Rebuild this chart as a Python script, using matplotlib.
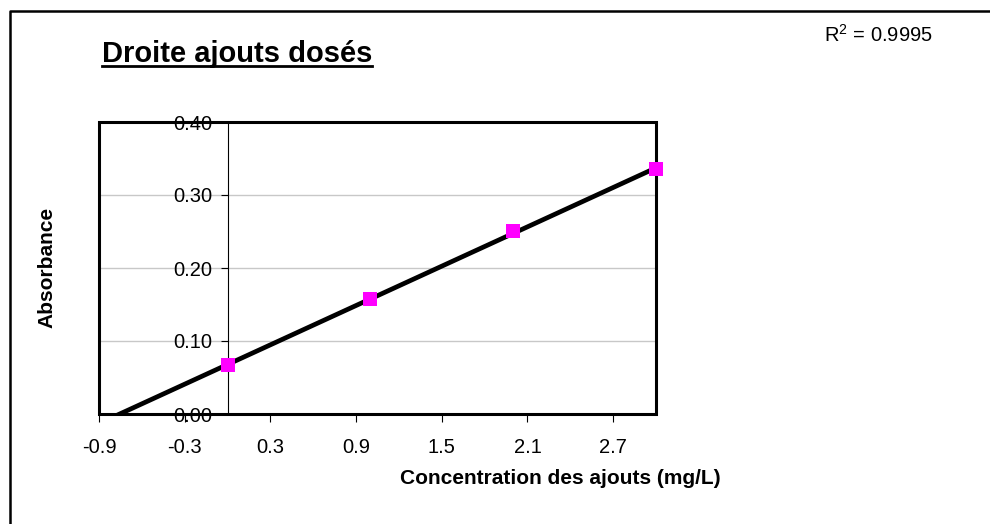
import matplotlib
matplotlib.use("Agg")
import matplotlib.pyplot as plt
from matplotlib.lines import Line2D
from matplotlib.patches import Rectangle
import numpy as np

plt.rcParams['font.family'] = ['Liberation Sans', 'DejaVu Sans']
plt.rcParams['mathtext.fontset'] = 'custom'
plt.rcParams['mathtext.rm'] = 'Liberation Sans'
plt.rcParams['mathtext.it'] = 'Liberation Sans'

# Standard additions: added concentration vs measured absorbance
concentration = [0.0, 1.0, 2.0, 3.0]
absorbance = [0.067, 0.157, 0.251, 0.335]
r2_label = r"R$^{\mathrm{2}}$ = 0.9995"
x_ticks = [-0.9, -0.3, 0.3, 0.9, 1.5, 2.1, 2.7]
y_ticks = [0.0, 0.1, 0.2, 0.3, 0.4]

fig = plt.figure(figsize=(9.9, 5.24), dpi=100)
ax = fig.add_axes([99/990, 1 - 414/524, (656 - 99)/990, (414 - 122)/524])

# Least-squares trendline
slope, intercept = np.polyfit(concentration, absorbance, 1)
xs = np.array([-0.9, 3.0])
ax.plot(xs, slope * xs + intercept, color='black', lw=3.4, zorder=4,
        solid_capstyle='butt')
ax.plot(concentration, absorbance, linestyle='none', marker='s',
        markersize=10.5, color='#FF00FF', markeredgewidth=0, zorder=5,
        clip_on=False)

ax.set_xlim(-0.9, 3.0)
ax.set_ylim(0.0, 0.4)

# Horizontal gridlines
for y in y_ticks[1:-1]:
    ax.axhline(y, color='#c8c8c8', lw=1.0, zorder=1)

# Value axis crossing at x = 0
ax.spines['left'].set_position(('data', 0))
ax.spines['left'].set_linewidth(0.8)
ax.spines['left'].set_zorder(2)
for s in ['top', 'right', 'bottom']:
    ax.spines[s].set_visible(False)

# Plot-area frame
ax.add_patch(Rectangle((0, 0), 1, 1, transform=ax.transAxes, fill=False,
                       edgecolor='black', lw=2.2, zorder=3, clip_on=False))

ax.set_xticks(x_ticks)
ax.set_xticklabels([f"{v:.1f}" for v in x_ticks])
ax.set_yticks(y_ticks)
ax.set_yticklabels([f"{v:.2f}" for v in y_ticks])
ax.tick_params(axis='x', direction='out', length=6, width=0.8, pad=11,
               labelsize=14.5)
ax.tick_params(axis='y', direction='out', length=5, width=0.8, pad=6,
               labelsize=14.5)
for lab in ax.get_yticklabels():
    lab.set_zorder(6)

# Axis titles
fig.text(560/990, 1 - 479/524, "Concentration des ajouts (mg/L)",
         ha='center', va='center', fontsize=15, fontweight='bold')
fig.text(47/990, 1 - 267/524, "Absorbance", ha='center', va='center',
         rotation=90, fontsize=15, fontweight='bold')

# Underlined chart title
title = fig.text(102/990, 1 - 62/524, "Droite ajouts dosés", ha='left',
                 va='baseline', fontsize=21, fontweight='bold')
fig.canvas.draw()
bb = title.get_window_extent(renderer=fig.canvas.get_renderer())
x0, x1 = bb.x0 / fig.bbox.width, bb.x1 / fig.bbox.width
yu = 1 - 66/524
fig.add_artist(Line2D([x0, x1], [yu, yu], transform=fig.transFigure,
                      color='black', lw=2.0))

# Coefficient of determination
fig.text(933/990, 1 - 35/524, r2_label, ha='right', va='center',
         fontsize=14.5)

# Outer chart border (top and left)
fig.add_artist(Line2D([10/990, 10/990, 1.0], [0.0, 1 - 11/524, 1 - 11/524],
                      transform=fig.transFigure, color='black', lw=1.8))

fig.savefig("out.png", dpi=100, facecolor='white')
